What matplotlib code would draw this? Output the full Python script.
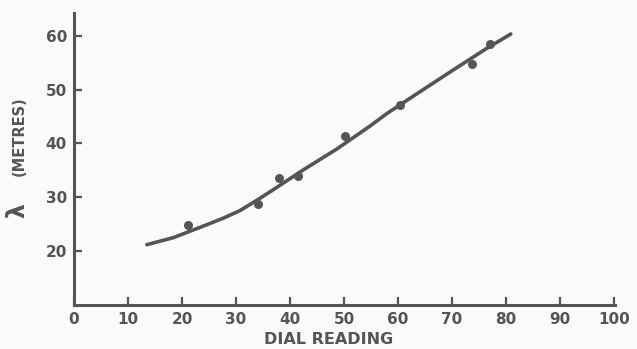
import matplotlib
matplotlib.use('Agg')
import matplotlib.pyplot as plt

# 刻度盘读数 - 波长 测量点
dial_points = [21.2, 34.1, 38.0, 41.4, 50.2, 60.4, 73.8, 77.0]
metres_points = [24.8, 28.7, 33.6, 33.9, 41.4, 47.2, 54.7, 58.4]

# 手绘校准曲线
dial_curve = [13.5, 18.4, 21.5, 24.6, 27.6, 30.7, 33.8, 36.6, 42.5, 48.6,
              54.8, 57.9, 64.1, 70.2, 76.4, 80.9]
metres_curve = [21.2, 22.5, 23.7, 24.9, 26.1, 27.5, 29.4, 31.2, 35.1, 38.9,
                43.2, 45.5, 49.6, 53.6, 57.6, 60.3]

x_ticks = [0, 10, 20, 30, 40, 50, 60, 70, 80, 90, 100]
y_ticks = [20, 30, 40, 50, 60]

ink = '#555555'
bg = '#fafafa'

fig = plt.figure(figsize=(6.37, 3.49), dpi=100, facecolor=bg)
ax = fig.add_axes([74 / 637, 1 - 305 / 349, (615 - 74) / 637, (305 - 13) / 349])
ax.set_facecolor(bg)

ax.plot(dial_curve, metres_curve, color=ink, lw=2.6, solid_capstyle='round',
        solid_joinstyle='round')
ax.scatter(dial_points, metres_points, s=30, color=ink, zorder=3)

ax.set_xlim(0, 100.2)
ax.set_ylim(10, 64.2)
ax.set_xticks(x_ticks)
ax.set_yticks(y_ticks)
ax.tick_params(direction='in', length=6, width=1.6, color=ink, labelcolor=ink,
               labelsize=11, pad=5)
for lab in ax.get_xticklabels() + ax.get_yticklabels():
    lab.set_fontweight('bold')

for side in ['top', 'right']:
    ax.spines[side].set_visible(False)
for side in ['left', 'bottom']:
    ax.spines[side].set_color(ink)
    ax.spines[side].set_linewidth(2.2)

fig.text(329 / 637, 1 - 340 / 349, 'DIAL READING', color=ink, fontsize=11.5,
         ha='center', va='center', fontweight='bold')
fig.text(17 / 637, 1 - 211 / 349, 'λ', rotation=90, color=ink, fontsize=17,
         ha='center', va='center', fontweight='bold')
fig.text(19 / 637, 1 - 136 / 349, '(METRES)', rotation=90, color=ink, fontsize=10.5,
         ha='center', va='center', fontweight='bold')

fig.savefig('out.png', dpi=100, facecolor=bg)
